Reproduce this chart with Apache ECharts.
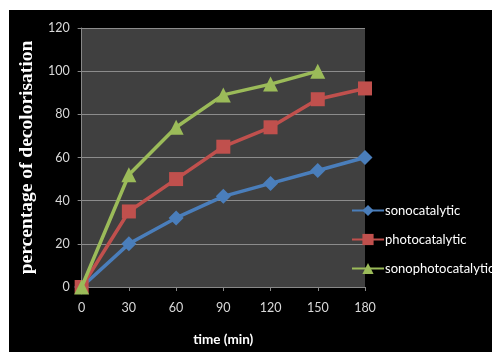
<!DOCTYPE html>
<html><head><meta charset="utf-8">
<script src="https://cdn.jsdelivr.net/npm/echarts@6/dist/echarts.min.js"></script>
<style>
html,body{margin:0;padding:0;background:#fff;width:492px;height:354px;overflow:hidden;}
#c{position:absolute;left:9px;top:10px;width:483px;height:342px;}
</style></head>
<body><div id="c"></div>
<script>
const times = [0, 30, 60, 90, 120, 150, 180];
const sonocatalytic = [0, 20, 32, 42, 48, 54, 60];
const photocatalytic = [0, 35, 50, 65, 74, 87, 92];
const sonophotocatalytic = [0, 52, 74, 89, 94, 100];
const seriesNames = ['sonocatalytic', 'photocatalytic', 'sonophotocatalytic'];
const colors = ['#4A7EBB', '#C0504D', '#9BBB59'];
const symbols = ['diamond', 'rect', 'triangle'];

const chart = echarts.init(document.getElementById('c'));
const datas = [sonocatalytic, photocatalytic, sonophotocatalytic];
chart.setOption({
  backgroundColor: '#000',
  animation: false,
  grid: {left: 71, top: 18, right: 127, bottom: 65, show: true, backgroundColor: '#404040', borderWidth: 0},
  legend: {
    orient: 'vertical', left: 337, top: 189, itemGap: 16, itemWidth: 32, itemHeight: 14,
    textStyle: {color: '#fff', fontFamily: 'Lato', fontSize: 13, padding: [0, 0, 0, -4]},
    data: seriesNames
  },
  xAxis: {
    type: 'value', min: 0, max: 180, interval: 30,
    name: 'time (min)', nameLocation: 'middle', nameGap: 46,
    nameTextStyle: {color: '#fff', fontFamily: 'Lato', fontWeight: 'bold', fontSize: 13.5},
    axisLine: {show: true, lineStyle: {color: '#888', width: 1}},
    axisTick: {show: true, length: 4, lineStyle: {color: '#888'}},
    axisLabel: {color: '#d9d9d9', fontFamily: 'Lato', fontSize: 12.5, margin: 14},
    splitLine: {show: false}
  },
  yAxis: {
    type: 'value', min: 0, max: 120, interval: 20,
    name: 'percentage of decolorisation', nameLocation: 'middle', nameGap: 44, nameRotate: 90,
    nameTextStyle: {color: '#fff', fontFamily: 'Liberation Serif', fontWeight: 'bold', fontSize: 19.5},
    axisLine: {show: true, lineStyle: {color: '#888', width: 1}},
    axisTick: {show: true, length: 4, lineStyle: {color: '#888'}},
    axisLabel: {color: '#d9d9d9', fontFamily: 'Lato', fontSize: 12.5, margin: 12},
    splitLine: {show: true, lineStyle: {color: '#8c8c8c', width: 1}}
  },
  series: seriesNames.map((n, i) => ({
    name: n, type: 'line',
    data: datas[i].map((v, j) => [times[j], v]),
    symbol: symbols[i], symbolSize: i === 1 ? 14 : 15,
    lineStyle: {color: colors[i], width: 3.5},
    itemStyle: {color: colors[i]},
    z: 3 + i
  }))
});
</script></body></html>
